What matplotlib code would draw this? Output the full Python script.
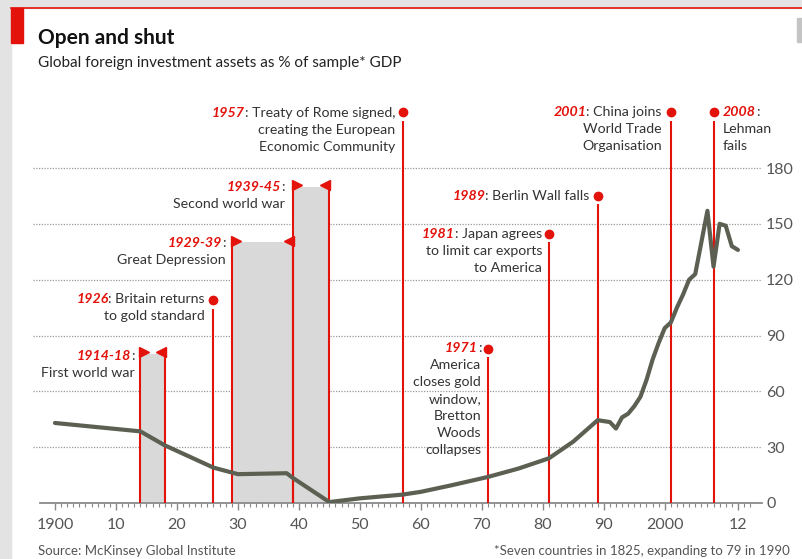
import matplotlib.pyplot as plt
from matplotlib.patches import Rectangle
from matplotlib.lines import Line2D

plt.rcParams['font.family'] = ['Lato', 'DejaVu Sans']

# Global foreign investment assets, % of sample GDP
years = [1900, 1914, 1918, 1926, 1930, 1938, 1939, 1945, 1950, 1957, 1960, 1965,
         1971, 1976, 1981, 1985, 1989, 1990, 1991, 1992, 1993, 1994, 1995, 1996,
         1997, 1998, 1999, 2000, 2001, 2002, 2003, 2004, 2005, 2006, 2007, 2008,
         2009, 2010, 2011, 2012]
assets = [43, 38.5, 31, 19, 15.5, 16, 13.5, 0.5, 2.5, 4.5, 6, 9.5,
          14, 18.5, 24, 33, 44.5, 44, 43.5, 40, 46, 48, 52, 57,
          66, 77, 86, 94, 97, 105, 112, 120, 123, 140, 157, 127,
          150, 149, 138, 136]

# shaded periods: start, end, height of the shading
span_start = [1914, 1929, 1939]
span_end = [1918, 1939, 1945]
span_top = [80, 140, 170]
span_year = ['1914-18', '1929-39', '1939-45']
span_lines = [[':', 'First world war'], [':', 'Great Depression'], [':', 'Second world war']]
span_pos = [(1913.1, 79), (1928.0, 139.7), (1937.7, 169.8)]

# single events: year, dot height
event_year = [1926, 1957, 1971, 1981, 1989, 2001, 2008]
event_top = [109, 210, 83, 144.5, 165, 210, 210]
event_lines = [
    [': Britain returns', 'to gold standard'],
    [': Treaty of Rome signed,', 'creating the European', 'Economic Community'],
    [':', 'America', 'closes gold', 'window,', 'Bretton', 'Woods', 'collapses'],
    [': Japan agrees', 'to limit car exports', 'to America'],
    [': Berlin Wall falls'],
    [': China joins', 'World Trade', 'Organisation'],
    ['Lehman', 'fails'],
]
event_pos = [(1924.6, 109.6), (1955.8, 209.6), (1969.9, 83.3), (1979.9, 144.5),
             (1987.7, 165), (1999.5, 210), (2009.5, 210)]

RED = '#e3120b'
DARK = '#333333'
GREY = '#555555'
SHADE = '#d9d9d9'
FS = 10.2
LS = 12.2

fig = plt.figure(figsize=(8.02, 5.59), dpi=100)

# page decoration
fig.patches.append(Rectangle((0, 0), 11 / 802, 1, transform=fig.transFigure, color='#e3e3e3', zorder=0))
fig.patches.append(Rectangle((0, 1 - 8 / 559), 1, 8 / 559, transform=fig.transFigure, color='#e3e3e3', zorder=0))
fig.lines.append(Line2D([11 / 802, 1], [1 - 8 / 559] * 2, transform=fig.transFigure, color=RED, lw=1.2))
fig.patches.append(Rectangle((11 / 802, 1 - 43 / 559), 12 / 802, 35 / 559, transform=fig.transFigure, color=RED))
fig.patches.append(Rectangle((797 / 802, 1 - 42 / 559), 5 / 802, 24 / 559, transform=fig.transFigure, color='#c4c4c4'))

fig.text(38 / 802, 1 - 38 / 559, 'Open and shut', fontsize=15, fontweight='bold', color='#111111', va='center')
fig.text(38 / 802, 1 - 63 / 559, 'Global foreign investment assets as % of sample* GDP',
         fontsize=11, color='#222222', va='center')
fig.text(38 / 802, 1 - 551 / 559, 'Source: McKinsey Global Institute', fontsize=9.5, color=GREY, va='center')
fig.text(790 / 802, 1 - 551 / 559, '*Seven countries in 1825, expanding to 79 in 1990',
         fontsize=9.5, color=GREY, va='center', ha='right')

ax = fig.add_axes([33 / 802, 56 / 559, 729 / 802, 403 / 559])
ax.set_xlim(1896.4, 2015.95)
ax.set_ylim(0, 216.55)
ax.patch.set_alpha(0)
for s in ax.spines.values():
    s.set_visible(False)

for v in range(30, 181, 30):
    ax.axhline(v, color='#999999', lw=0.9, ls=(0, (1, 1.2)), zorder=1)
ax.plot([1897.5, 2015.95], [0, 0], color='#8a8a8a', lw=1.3, clip_on=False, zorder=2)

for a, b, top in zip(span_start, span_end, span_top):
    ax.bar(a, top, width=b - a, align='edge', color=SHADE, zorder=1.5)
    ax.vlines([a, b], 0, top, color=RED, lw=1.5, zorder=3)
    ax.plot(a + 0.65, top + 1, marker='>', ms=6.5, color=RED, clip_on=False, zorder=3)
    ax.plot(b - 0.65, top + 1, marker='<', ms=6.5, color=RED, clip_on=False, zorder=3)

for yr, top in zip(event_year, event_top):
    ax.plot(yr, top, 'o', ms=6, color=RED, clip_on=False, zorder=3)
    ax.vlines(yr, 0, top - 4.5, color=RED, lw=1.5, zorder=3)

ax.plot(years, assets, color='#5b6052', lw=3, solid_joinstyle='round', solid_capstyle='round', zorder=5)


def label(x, y, year, lines, left=False):
    if left:
        t = ax.text(x, y, year, color=RED, fontsize=FS, fontweight='bold', style='italic',
                    ha='left', va='center')
        ax.annotate(':', xy=(1, 0), xycoords=t, ha='left', va='bottom', color=DARK, fontsize=FS)
        rest = lines
    else:
        t = ax.text(x, y, lines[0], color=DARK, fontsize=FS, ha='right', va='center')
        ax.annotate(year, xy=(0, 0), xycoords=t, ha='right', va='bottom', color=RED,
                    fontsize=FS, fontweight='bold', style='italic')
        rest = lines[1:]
    for i, s in enumerate(rest, 1):
        ax.annotate(s, xy=(x, y), xytext=(0, -i * LS), textcoords='offset points',
                    ha='left' if left else 'right', va='center', color=DARK, fontsize=FS)


for yr, lines, (x, y) in zip(span_year, span_lines, span_pos):
    label(x, y, yr, lines)
for yr, lines, (x, y) in zip(event_year, event_lines, event_pos):
    label(x, y, str(yr), lines, left=(yr == 2008))

ax.set_xticks(list(range(1900, 2001, 10)) + [2012])
ax.set_xticklabels(['1900', '10', '20', '30', '40', '50', '60', '70', '80', '90', '2000', '12'])
ax.set_xticks(range(1900, 2015), minor=True)
ax.tick_params(axis='x', which='major', length=5, width=1, color='#888888', pad=6,
               labelsize=11.5, labelcolor=GREY)
ax.tick_params(axis='x', which='minor', length=3, width=0.8, color='#888888')

ax.yaxis.tick_right()
ax.set_yticks(range(0, 181, 30))
ax.tick_params(axis='y', length=0, pad=3, labelsize=11.5, labelcolor=GREY)

fig.savefig('out.png', dpi=100)
